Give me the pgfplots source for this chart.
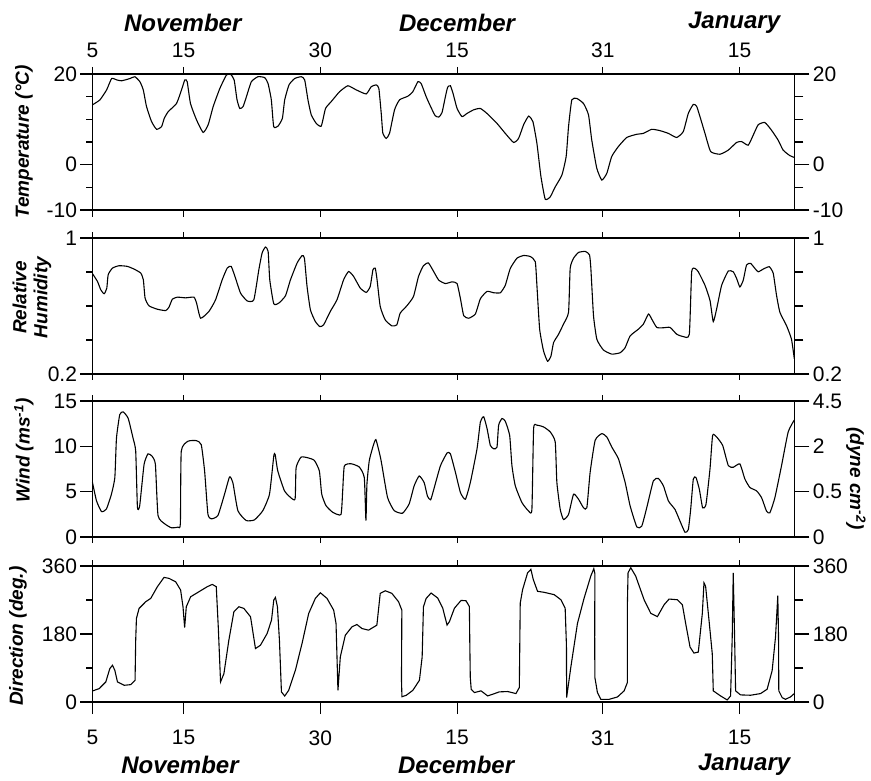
\documentclass[border=0pt]{standalone}
\usepackage{fontspec}
\setmainfont{Liberation Sans}
\usepackage{pgfplots}
\pgfplotsset{compat=1.18}
\begin{document}
\begin{tikzpicture}
\pgfplotsset{
  base/.style={
    scale only axis, width=701.8pt, height=136pt,
    xmin=5, xmax=82, clip=false,
    /pgf/number format/assume math mode=true,
    tick label style={font=\fontsize{21}{23}\selectfont},
    axis line style={line width=1.3pt},
    every tick/.style={line width=1.1pt, black},
    anchor=north west,
  },
  main/.style={base,
    xtick={5,15,30,45,61,76},
    ytick=\empty,
    tick align=outside,
    major tick length=6pt,
    xtick pos=both,
    xticklabels={},
  },
  topx/.style={base, hide y axis, xtick={5,15,30,45,61,76}, xtick pos=upper, xticklabels={},
    tick align=outside, major tick length=6pt, axis line style={draw=none}},
  lefty/.style={base, hide x axis, ytick pos=left, tick align=outside,
    major tick length=12pt, minor tick length=6pt, axis line style={draw=none}},
  righty/.style={base, hide x axis, ytick pos=right, yticklabel pos=right, tick align=outside,
    major tick length=15pt, minor tick length=9pt, axis line style={draw=none}},
  curve/.style={black, line width=1.1pt, mark=none},
}
\newcommand{\lab}{\fontsize{19}{21}\selectfont\bfseries\itshape}
\newcommand{\mon}{\fontsize{24}{26}\selectfont\bfseries\itshape}

% ---------- Temperature ----------
\begin{axis}[main, at={(0pt,0pt)}, ymin=-10, ymax=20, major tick length=7pt,
  xticklabel pos=upper, xticklabels={5,15,30,15,31,15}, xticklabel style={yshift=6pt}]
\addplot[curve, smooth, tension=0.3] coordinates {
(5.0,13.2)(5.82,14.3)(6.55,16.5)(7.10,19.0)(7.65,18.7)(8.19,18.5)(9.11,19.0)(9.65,19.4)(10.20,18.3)(10.57,16.5)(10.93,12.8)(11.48,9.5)(12.03,7.8)(12.58,8.4)(12.87,10.2)(13.31,11.7)(14.22,13.5)(14.77,16.5)(15.13,18.7)(15.39,18.3)(15.75,13.5)(16.41,9.9)(17.14,7.1)(17.69,8.8)(18.24,12.8)(18.97,16.8)(19.70,19.8)(20.17,19.9)(20.54,18.7)(20.86,14.3)(21.16,12.4)(21.52,12.8)(21.89,15.0)(22.43,18.3)(23.16,19.4)(23.89,19.2)(24.26,17.9)(24.62,14.3)(24.88,8.4)(25.35,8.5)(25.83,10.2)(26.09,14.3)(26.56,17.6)(27.18,19.0)(27.91,19.4)(28.28,18.7)(28.64,14.3)(29.00,11.0)(29.55,9.1)(30.10,8.5)(30.57,12.4)(31.19,13.9)(32.11,16.1)(33.02,17.4)(33.93,16.5)(35.03,15.6)(35.58,17.2)(36.13,17.6)(36.42,16.8)(36.68,11.3)(36.86,6.9)(37.23,5.8)(37.59,6.9)(38.14,12.1)(38.69,14.3)(39.60,15.1)(40.15,16.1)(40.70,18.3)(41.06,17.9)(41.61,15.0)(42.1,12.8)(42.6,10.8)(43.0,10.5)(43.35,11.5)(43.72,15.0)(43.97,17.1)(44.27,17.4)(44.56,15.7)(45.00,12.4)(45.54,10.6)(46.09,11.3)(46.82,12.1)(47.55,12.4)(48.28,11.3)(49.38,9.1)(50.29,6.9)(51.20,4.9)(51.75,5.8)(52.30,8.8)(52.85,10.7)(53.32,9.5)(53.76,4.7)(54.20,-2.6)(54.67,-7.6)(55.22,-7.1)(55.77,-4.9)(56.50,-2.3)(56.97,1.8)(57.23,8.4)(57.59,14.3)(58.14,14.6)(58.87,13.5)(59.42,11.0)(59.78,5.4)(60.33,-0.8)(60.88,-3.4)(61.43,-1.9)(61.97,1.8)(62.70,4.0)(63.62,6.0)(64.71,6.7)(65.44,6.9)(66.36,7.8)(67.27,7.5)(68.18,6.9)(69.09,6.0)(69.82,7.3)(70.37,11.3)(70.92,13.3)(71.28,12.9)(71.65,10.6)(72.20,6.9)(72.82,2.9)(73.84,2.3)(74.75,3.2)(75.67,4.9)(76.21,5.1)(76.94,4.3)(77.49,6.5)(78.04,8.8)(78.77,9.3)(79.50,7.6)(80.23,5.4)(80.78,3.2)(81.51,2.0)(82.0,1.6)
};
\node[font=\mon] at ([yshift=51pt]axis cs:14.9,20) {November};
\node[font=\mon] at ([yshift=51pt]axis cs:45,20) {December};
\node[font=\mon] at ([yshift=51pt]axis cs:75.4,20) {January};
\node[font=\lab, rotate=90] at ([xshift=-68.5pt]rel axis cs:0,0.5) {Temperature (°C)};
\end{axis}
\begin{axis}[lefty, at={(0pt,0pt)}, ymin=-10, ymax=20, ytick={-10,0,20}, minor ytick={-5,5,10,15}]
\end{axis}
\begin{axis}[righty, at={(0pt,0pt)}, ymin=-10, ymax=20, ytick={-10,0,20}, minor ytick={-5,5,10,15}]
\end{axis}

% ---------- Relative humidity ----------
\begin{axis}[main, at={(0pt,-164pt)}, ymin=0.2, ymax=1]
\addplot[curve, smooth, tension=0.3] coordinates {
(5.0,0.79)(5.55,0.744)(5.91,0.695)(6.28,0.672)(6.57,0.705)(6.72,0.784)(7.19,0.823)(7.92,0.837)(8.83,0.833)(9.56,0.817)(10.29,0.794)(10.58,0.754)(10.77,0.646)(11.20,0.601)(12.12,0.581)(13.03,0.573)(13.39,0.593)(13.76,0.640)(14.31,0.652)(15.22,0.648)(16.13,0.652)(16.42,0.617)(16.86,0.528)(17.77,0.568)(18.50,0.636)(19.23,0.754)(19.78,0.823)(20.22,0.833)(20.69,0.764)(21.24,0.676)(21.97,0.630)(22.70,0.636)(23.25,0.813)(23.61,0.912)(23.98,0.947)(24.27,0.921)(24.45,0.754)(24.89,0.613)(25.44,0.617)(26.17,0.660)(26.72,0.754)(27.45,0.853)(27.99,0.896)(28.25,0.882)(28.54,0.715)(28.91,0.577)(29.45,0.509)(29.93,0.479)(30.36,0.489)(31.09,0.568)(31.82,0.636)(32.55,0.754)(33.10,0.803)(33.65,0.774)(34.38,0.705)(35.04,0.680)(35.47,0.715)(35.77,0.813)(36.02,0.823)(36.20,0.764)(36.57,0.597)(37.12,0.518)(37.85,0.483)(38.39,0.489)(38.76,0.558)(39.49,0.601)(40.22,0.656)(40.77,0.774)(41.31,0.837)(41.86,0.853)(42.45,0.801)(42.99,0.752)(43.72,0.732)(44.45,0.742)(45.00,0.732)(45.37,0.643)(45.73,0.543)(46.28,0.528)(47.01,0.553)(47.56,0.643)(48.29,0.686)(49.02,0.678)(49.75,0.678)(50.29,0.722)(50.84,0.821)(51.57,0.881)(52.30,0.897)(53.03,0.891)(53.58,0.861)(53.76,0.722)(54.06,0.464)(54.49,0.335)(54.93,0.275)(55.30,0.305)(55.59,0.385)(56.14,0.434)(56.68,0.494)(57.23,0.563)(57.41,0.821)(57.78,0.881)(58.33,0.915)(59.06,0.921)(59.53,0.901)(59.68,0.821)(59.97,0.543)(60.34,0.404)(61.06,0.341)(61.98,0.317)(62.89,0.325)(63.44,0.355)(63.99,0.424)(64.90,0.464)(65.45,0.494)(66.00,0.553)(66.36,0.523)(66.91,0.474)(67.64,0.472)(68.37,0.474)(69.10,0.434)(69.83,0.420)(70.48,0.434)(70.74,0.801)(71.10,0.821)(71.47,0.801)(72.20,0.722)(72.75,0.633)(73.11,0.508)(73.48,0.583)(74.03,0.722)(74.76,0.806)(75.30,0.801)(75.67,0.762)(76.03,0.712)(76.40,0.752)(76.76,0.841)(77.20,0.851)(77.68,0.821)(78.04,0.801)(78.59,0.817)(79.25,0.831)(79.69,0.792)(80.05,0.663)(80.42,0.563)(81.15,0.484)(81.69,0.405)(82.0,0.29)
};
\node[font=\lab, rotate=90, align=center, inner sep=0pt] at ([xshift=-60.5pt]rel axis cs:0,0.5625) {Relative\\Humidity};
\end{axis}
\begin{axis}[lefty, at={(0pt,-164pt)}, ymin=0.2, ymax=1, ytick={0.2,1}, yticklabels={0.2,1}, minor ytick={0.4,0.6,0.8}]
\end{axis}
\begin{axis}[righty, at={(0pt,-164pt)}, ymin=0.2, ymax=1, ytick={0.2,1}, yticklabels={0.2,1}, minor ytick={0.4,0.6,0.8}]
\end{axis}

% ---------- Wind ----------
\begin{axis}[main, at={(0pt,-327pt)}, ymin=0, ymax=15]
\addplot[curve, smooth, tension=0.3] coordinates {
(5.0,6.0)(5.44,3.99)(5.99,2.80)(6.53,3.09)(7.08,4.73)(7.45,6.55)(7.63,10.9)(7.99,13.5)(8.36,13.8)(8.91,13.1)(9.45,10.9)(9.74,9.46)(9.93,3.28)(10.18,3.46)(10.66,8.01)(11.09,9.17)(11.53,8.92)(11.90,8.01)(12.19,2.37)(12.92,1.46)(13.65,1.02)(14.38,1.09)(14.64,1.46)(14.74,9.46)(15.47,10.56)(16.39,10.63)(16.93,10.19)(17.30,7.28)(17.66,2.55)(18.03,2.0)(18.76,2.37)(19.49,4.73)(20.04,6.63)(20.40,6.0)(20.95,2.91)(21.86,1.82)(22.77,1.89)(23.69,2.91)(24.42,4.73)(24.89,8.92)(25.04,9.10)(25.33,7.28)(26.06,5.10)(26.72,4.37)(27.23,4.19)(27.34,7.64)(27.88,8.81)(28.61,8.74)(29.34,8.45)(29.89,7.28)(30.15,4.73)(30.62,3.46)(31.35,2.73)(32.26,2.48)(32.45,5.10)(32.63,7.83)(33.36,8.08)(34.27,7.72)(34.82,6.55)(35.00,1.82)(35.11,5.82)(35.36,8.37)(35.73,9.83)(36.09,10.74)(36.64,8.55)(37.37,4.37)(38.10,2.91)(39.01,2.62)(39.74,3.64)(40.29,5.64)(40.84,6.73)(41.39,6.0)(41.75,4.5)(42.1,4.1)(42.45,5.27)(43.18,7.87)(43.91,9.28)(44.27,9.17)(44.82,7.13)(45.37,4.90)(45.91,4.16)(46.46,6.02)(47.19,9.73)(47.56,12.70)(47.92,13.26)(48.29,11.96)(48.65,10.1)(49.02,9.73)(49.38,9.91)(49.56,12.33)(49.93,13.07)(50.29,12.77)(50.77,11.21)(51.02,7.87)(51.39,5.64)(52.12,3.79)(52.85,2.86)(53.21,3.04)(53.40,11.96)(53.76,12.33)(54.49,12.14)(55.22,11.59)(55.77,10.47)(55.95,6.02)(56.32,3.04)(56.68,1.93)(57.23,2.49)(57.78,4.72)(58.33,4.16)(58.87,3.23)(59.24,3.23)(59.60,7.13)(60.15,10.66)(60.88,11.40)(61.43,11.03)(61.98,9.91)(62.71,8.61)(63.44,6.02)(63.99,3.42)(64.72,1.11)(65.26,1.19)(65.81,3.23)(66.54,6.20)(67.09,6.46)(67.64,5.64)(68.19,3.97)(68.91,3.04)(69.46,1.75)(70.01,0.52)(70.37,0.82)(70.63,3.04)(70.92,6.39)(71.21,6.57)(71.58,5.27)(71.94,3.23)(72.31,3.60)(72.75,7.50)(73.04,11.21)(73.48,11.03)(74.14,10.10)(74.76,7.87)(75.30,7.69)(76.03,8.06)(76.58,6.39)(77.13,5.46)(77.86,5.09)(78.41,4.34)(78.95,2.86)(79.32,2.67)(79.87,4.34)(80.60,7.87)(81.33,11.59)(82.0,12.9)
};
\node[font=\lab, rotate=90] at ([xshift=-68.5pt]rel axis cs:0,0.635) {Wind (ms\textsuperscript{-1})};
\node[font=\lab, rotate=-90] at ([xshift=61.7pt]rel axis cs:1,0.43) {(dyne cm\textsuperscript{-2})};
\end{axis}
\begin{axis}[lefty, at={(0pt,-327pt)}, ymin=0, ymax=15, ytick={0,5,10,15}]
\end{axis}
\begin{axis}[righty, at={(0pt,-327pt)}, ymin=0, ymax=15, ytick={0,5,10,15}, yticklabels={0,0.5,2,4.5}]
\end{axis}

% ---------- Direction ----------
\begin{axis}[main, at={(0pt,-492pt)}, ymin=0, ymax=360, xtick pos=lower, major tick length=12pt,
  xticklabel pos=lower, xticklabels={5,15,30,15,31,15}, xticklabel style={yshift=-13pt}]
\addplot[curve] coordinates {
(5.0,29.2)(5.73,35.4)(6.46,53.1)(6.90,88.5)(7.19,97.3)(7.45,84.0)(7.74,53.1)(8.47,44.2)(9.20,46.0)(9.67,57.5)(9.74,163.6)(9.82,221.1)(10.11,247.7)(10.84,265.4)(11.39,274.2)(12.12,305.2)(12.85,329.9)(13.39,327.3)(14.12,318.4)(14.67,296.3)(14.93,252.1)(15.11,197.2)(15.29,252.1)(15.77,278.6)(16.68,291.9)(17.59,305.2)(18.14,311.3)(18.58,305.2)(18.80,199.0)(19.05,53.1)(19.42,75.2)(19.96,163.6)(20.51,238.8)(21.06,252.1)(21.61,247.7)(22.34,225.5)(22.88,141.5)(23.43,150.4)(24.16,181.3)(24.64,216.7)(24.89,269.8)(25.07,276.8)(25.29,252.1)(25.51,163.6)(25.73,26.5)(26.09,15.9)(26.53,31.0)(27.26,84.0)(27.99,154.8)(28.72,234.4)(29.45,274.2)(30.00,289.2)(30.73,274.2)(31.46,243.2)(31.72,207.9)(31.93,31.0)(32.19,119.4)(32.74,176.9)(33.47,199.0)(34.01,205.2)(34.56,194.6)(35.29,190.2)(36.20,203.4)(36.57,287.5)(37.12,294.5)(37.85,287.5)(38.58,265.4)(38.94,243.2)(38.92,140)(38.90,60)(38.95,14)(39.42,17.7)(40.15,31.0)(40.87,57.5)(41.17,119.4)(41.31,252.1)(41.61,274.2)(42.15,288.5)(42.88,275.1)(43.43,248.3)(43.90,203.7)(44.16,212.6)(44.71,248.3)(45.44,268.9)(45.98,268.0)(46.35,252.8)(46.40,150)(46.45,65.2)(46.55,33.9)(46.90,25.0)(47.63,29.5)(48.36,16.1)(48.90,20.5)(49.63,26.8)(50.55,27.7)(51.46,22.3)(51.83,38.4)(51.93,261.7)(52.19,297.5)(52.74,342.1)(53.10,351.1)(53.36,324.3)(53.83,293.0)(54.56,290.3)(55.66,284.1)(56.39,270.7)(56.86,248.3)(57.00,150)(57.02,11.6)(57.48,92.0)(58.21,208.1)(58.94,275.1)(59.67,333.2)(60.00,352.9)(60.12,340)(60.10,172)(60.12,65)(60.40,25.0)(60.77,7.1)(61.69,7.1)(62.60,13.4)(63.33,29.5)(63.69,51.8)(63.69,261.7)(63.76,342.1)(64.06,355.5)(64.60,333.2)(65.52,270.7)(66.25,234.9)(66.98,226.0)(67.71,257.3)(68.26,272.5)(69.17,270.7)(69.72,257.3)(70.08,208.1)(70.56,145.6)(70.99,129.5)(71.47,132.2)(71.91,234.9)(72.09,315.3)(72.27,306.4)(72.64,217.1)(73.00,127.7)(73.11,29.5)(73.91,16.1)(74.64,5.4)(75.01,16.1)(75.19,172.4)(75.30,342.1)(75.45,172.4)(75.56,29.5)(76.10,18.8)(77.20,17.9)(78.30,22.3)(79.02,33.9)(79.57,83.1)(79.94,172.4)(80.19,281.4)(80.27,172.4)(80.30,29.5)(80.67,11.6)(81.03,7.1)(81.58,13.4)(82.0,22.3)
};
\node[font=\mon] at ([yshift=-63pt]axis cs:14.6,0) {November};
\node[font=\mon] at ([yshift=-63pt]axis cs:44.9,0) {December};
\node[font=\mon] at ([yshift=-63pt]axis cs:76.5,0) {January};
\node[font=\lab, rotate=90] at ([xshift=-74.5pt]rel axis cs:0,0.484) {Direction (deg.)};
\end{axis}
\begin{axis}[topx, at={(0pt,-492pt)}, ymin=0, ymax=360]
\end{axis}
\begin{axis}[lefty, at={(0pt,-492pt)}, ymin=0, ymax=360, ytick={0,180,360}, minor ytick={90,270}]
\end{axis}
\begin{axis}[righty, at={(0pt,-492pt)}, ymin=0, ymax=360, ytick={0,180,360}, minor ytick={90,270}]
\end{axis}

\path (-92.5pt,74pt) rectangle (778.5pt,-707pt);
\end{tikzpicture}
\end{document}
